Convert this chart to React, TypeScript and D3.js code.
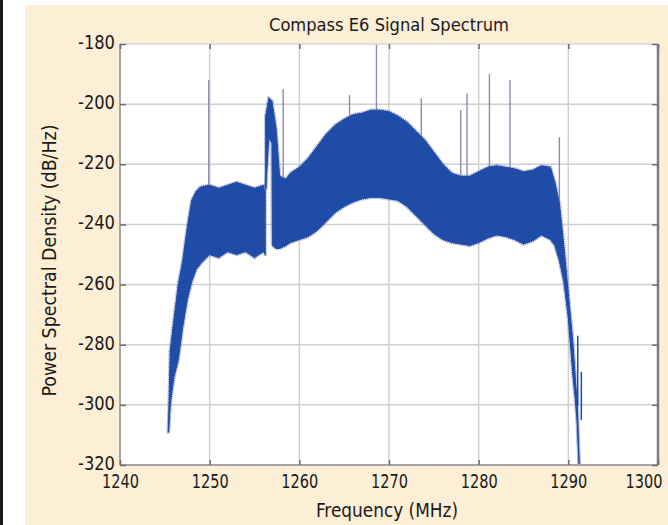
import { useEffect, useRef } from 'react';
import * as d3 from 'd3';

const xTicks = [1240, 1250, 1260, 1270, 1280, 1290, 1300];
const yTicks = [-180, -200, -220, -240, -260, -280, -300, -320];

// band left of the pilot gap (steep roll-off then flat)
const leftFreq = [1245.4, 1245.6, 1246.0, 1246.5, 1247.0, 1247.5, 1248.0, 1248.5, 1249.0, 1250.0, 1251.0, 1252.0, 1253.0, 1254.0, 1255.0, 1256.0, 1256.2];
const leftUpper = [-309, -282, -272, -260, -252, -241, -232, -229, -227.5, -227, -228, -227, -226, -227, -228, -227, -227];
const leftLower = [-309, -300, -291, -285, -274, -265, -259, -255, -253, -250, -251, -249, -250, -249, -251, -249, -250];

// pilot peak + main lobe + right roll-off
const mainFreq = [1256.25, 1256.6, 1256.95, 1257.0, 1257.4, 1257.8, 1258.5, 1259, 1260, 1261, 1262, 1263, 1264, 1265, 1266, 1267, 1268, 1269, 1270, 1271, 1272, 1273, 1274, 1275, 1276, 1277, 1278, 1279, 1280, 1281, 1282, 1283, 1284, 1285, 1286, 1287, 1288, 1288.5, 1289, 1289.5, 1290, 1290.5, 1290.8, 1291.0, 1291.2];
const mainUpper = [-204, -198, -199, -200, -208, -224, -225, -223, -221, -218, -214, -210, -207, -205, -203.5, -203, -202, -202, -202.5, -204, -206, -209, -212, -216, -220, -223, -224, -224, -222.5, -221, -220.5, -221, -221.5, -222.5, -222, -220.5, -221, -226, -233, -247, -263, -279, -292, -300, -319.5];
const mainLower = [-228, -211, -213, -247, -248, -248, -247, -246, -245, -244, -242, -239, -236, -234, -232.5, -231.5, -231, -231, -231.5, -232, -234, -237, -240, -243, -245, -246, -246.5, -247, -246, -244.5, -243.5, -244, -245, -246.5, -245.5, -243.5, -245, -247, -252, -259, -271, -290, -299, -306, -319.5];

// narrow interference lines above the band
const spikeFreq = [1249.9, 1258.2, 1265.6, 1268.6, 1273.6, 1278.0, 1278.7, 1281.2, 1283.5, 1289.0];
const spikeTop = [-192, -195, -197, -180, -198, -202, -196.5, -190, -192, -211];
const spikeBase = [-235, -235, -225, -220, -225, -235, -235, -235, -235, -240];

// small blue lines on the right roll-off tail
const tailFreq = [1291.05, 1291.45];
const tailTop = [-277, -289];
const tailBase = [-300, -305];

const W = 668;
const H = 525;
const margin = { top: 44, right: 10, bottom: 60, left: 120 };
const FONT = "'DejaVu Sans Condensed', 'DejaVu Sans', sans-serif";
const BAND = '#1f4ca6';

const App = () => {
  const svgRef = useRef<SVGSVGElement | null>(null);

  useEffect(() => {
    if (!svgRef.current) return;
    const svg = d3.select(svgRef.current);
    svg.selectAll('*').remove();

    const pw = W - margin.left - margin.right;
    const ph = H - margin.top - margin.bottom;

    const x = d3.scaleLinear().domain([1240, 1300]).range([0, pw]);
    const y = d3.scaleLinear().domain([-320, -180]).range([ph, 0]);

    // page background
    svg.append('rect').attr('width', W).attr('height', H).attr('fill', '#ffffff');
    svg.append('rect').attr('x', 25).attr('y', 5).attr('width', W - 25).attr('height', H - 5).attr('fill', '#fdefd6');
    svg.append('rect').attr('x', 0).attr('y', 0).attr('width', 3).attr('height', H).attr('fill', '#1a1a1a');

    const g = svg.append('g').attr('transform', `translate(${margin.left},${margin.top})`);

    g.append('rect').attr('width', pw).attr('height', ph).attr('fill', '#ffffff');

    // grid
    g.append('g')
      .selectAll('line')
      .data(xTicks.slice(1, -1))
      .join('line')
      .attr('x1', (d) => x(d))
      .attr('x2', (d) => x(d))
      .attr('y1', 0)
      .attr('y2', ph)
      .attr('stroke', '#cfcfd2')
      .attr('stroke-width', 1.5);
    g.append('g')
      .selectAll('line')
      .data(yTicks.slice(1, -1))
      .join('line')
      .attr('x1', 0)
      .attr('x2', pw)
      .attr('y1', (d) => y(d))
      .attr('y2', (d) => y(d))
      .attr('stroke', '#cfcfd2')
      .attr('stroke-width', 1.5);

    // interference spikes
    g.append('g')
      .selectAll('line')
      .data(spikeFreq)
      .join('line')
      .attr('x1', (d) => x(d))
      .attr('x2', (d) => x(d))
      .attr('y1', (_, i) => y(spikeTop[i]))
      .attr('y2', (_, i) => y(spikeBase[i]))
      .attr('stroke', '#8c8cab')
      .attr('stroke-width', 1.4);

    const leftArea = d3
      .area<number>()
      .x((d) => x(d))
      .y0((_, i) => y(leftLower[i]))
      .y1((_, i) => y(leftUpper[i]));
    const mainArea = d3
      .area<number>()
      .x((d) => x(d))
      .y0((_, i) => y(mainLower[i]))
      .y1((_, i) => y(mainUpper[i]));

    // noisy band: soft fringe under a solid fill
    [
      { data: leftFreq, gen: leftArea },
      { data: mainFreq, gen: mainArea },
    ].forEach(({ data, gen }) => {
      g.append('path')
        .datum(data)
        .attr('d', gen)
        .attr('fill', 'none')
        .attr('stroke', '#7d88bd')
        .attr('stroke-width', 3.5)
        .attr('stroke-opacity', 0.75)
        .attr('stroke-dasharray', '1.2 0.8')
        .attr('stroke-linejoin', 'round');
      g.append('path')
        .datum(data)
        .attr('d', gen)
        .attr('fill', BAND)
        .attr('stroke', BAND)
        .attr('stroke-width', 1);
    });

    g.append('g')
      .selectAll('line')
      .data(tailFreq)
      .join('line')
      .attr('x1', (d) => x(d))
      .attr('x2', (d) => x(d))
      .attr('y1', (_, i) => y(tailTop[i]))
      .attr('y2', (_, i) => y(tailBase[i]))
      .attr('stroke', BAND)
      .attr('stroke-width', 1.5);

    // frame
    g.append('line').attr('x1', 0).attr('x2', pw).attr('y1', 0).attr('y2', 0).attr('stroke', '#d4d4d4').attr('stroke-width', 1.5);
    g.append('line').attr('x1', 0).attr('x2', 0).attr('y1', 0).attr('y2', ph).attr('stroke', '#a6a6a6').attr('stroke-width', 2);
    g.append('line').attr('x1', 0).attr('x2', pw).attr('y1', ph).attr('y2', ph).attr('stroke', '#a6a6a6').attr('stroke-width', 2);
    g.append('line').attr('x1', pw).attr('x2', pw).attr('y1', 0).attr('y2', ph).attr('stroke', '#7d7d7d').attr('stroke-width', 2.5);

    // axes
    const yAxis = g
      .append('g')
      .call(d3.axisLeft(y).tickValues(yTicks).tickSize(-6).tickPadding(5).tickFormat((d) => String(d)));
    yAxis.select('.domain').remove();
    yAxis.selectAll('line').attr('stroke', '#6e6e6e').attr('stroke-width', 1.5);
    yAxis.selectAll('.tick text').attr('dy', '0.24em');

    const yAxisR = g
      .append('g')
      .attr('transform', `translate(${pw},0)`)
      .call(d3.axisRight(y).tickValues(yTicks).tickSize(-6).tickFormat(() => ''));
    yAxisR.select('.domain').remove();
    yAxisR.selectAll('line').attr('stroke', '#6e6e6e').attr('stroke-width', 1.5);

    const xAxis = g
      .append('g')
      .attr('transform', `translate(0,${ph})`)
      .call(d3.axisBottom(x).tickValues(xTicks).tickSize(-5).tickPadding(10).tickFormat((d) => String(d)));
    xAxis.select('.domain').remove();
    xAxis.selectAll('line').attr('stroke', '#6e6e6e').attr('stroke-width', 1.5);
    // last label is pulled inside the page edge, as in the source figure
    xAxis
      .selectAll<SVGTextElement, number>('.tick text')
      .filter((d) => d === xTicks[xTicks.length - 1])
      .attr('text-anchor', 'end')
      .attr('x', 4);

    const xAxisT = g
      .append('g')
      .call(d3.axisTop(x).tickValues(xTicks).tickSize(-5).tickFormat(() => ''));
    xAxisT.select('.domain').remove();
    xAxisT.selectAll('line').attr('stroke', '#6e6e6e').attr('stroke-width', 1.5);

    svg
      .selectAll('.tick text')
      .attr('font-family', FONT)
      .attr('font-size', 19)
      .attr('fill', '#1a1a1a')
      .attr('textLength', 37)
      .attr('lengthAdjust', 'spacingAndGlyphs');

    // titles
    svg
      .append('text')
      .attr('x', margin.left + pw / 2)
      .attr('y', 31)
      .attr('text-anchor', 'middle')
      .attr('font-family', FONT)
      .attr('font-size', 18)
      .attr('fill', '#1a1a1a')
      .attr('textLength', 240)
      .attr('lengthAdjust', 'spacingAndGlyphs')
      .text('Compass E6 Signal Spectrum');
    svg
      .append('text')
      .attr('x', margin.left + pw / 2 - 2)
      .attr('y', 517)
      .attr('text-anchor', 'middle')
      .attr('font-family', FONT)
      .attr('font-size', 20)
      .attr('fill', '#1a1a1a')
      .attr('textLength', 142)
      .attr('lengthAdjust', 'spacingAndGlyphs')
      .text('Frequency (MHz)');
    svg
      .append('text')
      .attr('transform', `translate(56,${margin.top + ph / 2 + 6}) rotate(-90)`)
      .attr('text-anchor', 'middle')
      .attr('font-family', FONT)
      .attr('font-size', 19)
      .attr('fill', '#1a1a1a')
      .attr('textLength', 272)
      .attr('lengthAdjust', 'spacingAndGlyphs')
      .text('Power Spectral Density (dB/Hz)');
  }, []);

  return (
    <svg
      ref={svgRef}
      width={W}
      height={H}
      style={{ position: 'absolute', left: 0, top: 0, display: 'block' }}
    />
  );
};

export default App;
